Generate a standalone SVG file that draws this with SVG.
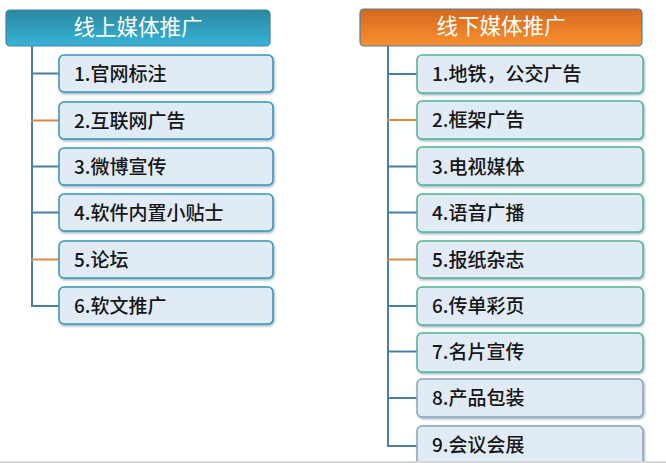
<svg xmlns="http://www.w3.org/2000/svg" width="666" height="463" viewBox="0 0 666 463">
<defs>
<linearGradient id="gBlue" x1="0" y1="0" x2="0" y2="1">
<stop offset="0" stop-color="#2a879f"/>
<stop offset="1" stop-color="#37b4d8"/>
</linearGradient>
<linearGradient id="gOrange" x1="0" y1="0" x2="0" y2="1">
<stop offset="0" stop-color="#d2691e"/>
<stop offset="1" stop-color="#fb8f2e"/>
</linearGradient>
<filter id="sh" x="-5%" y="-10%" width="110%" height="130%">
<feDropShadow dx="1" dy="1.5" stdDeviation="0.8" flood-color="#5a7f99" flood-opacity="0.6"/>
</filter>
<style>
.hdr{stroke:#4a7fa8;stroke-width:1.2}
.box{fill:#e1ebf6;stroke-width:1.5;filter:url(#sh)}
.bl{stroke:#3597b8}
.bg{stroke:#4fb593}
.bt{stroke:#8da5bd}
.ht{font-family:"Noto Sans CJK SC","Noto Sans",sans-serif;font-size:21.5px;fill:#ffffff;text-anchor:middle}
.t{font-family:"Noto Sans CJK SC","Noto Sans",sans-serif;font-size:19px;font-weight:500;fill:#161616}
.ln{stroke:#4c7ea6;stroke-width:2;fill:none}
.lo{stroke:#d98c45;stroke-width:2;fill:none}
</style>
</defs>
<rect width="666" height="463" fill="#ffffff"/>

<g id="connectors">
<line class="ln" x1="32" y1="46" x2="32" y2="307"/>
<line class="ln" x1="31" y1="73.5" x2="59" y2="73.5"/>
<line class="lo" x1="31" y1="120.5" x2="59" y2="120.5"/>
<line class="ln" x1="31" y1="166.5" x2="59" y2="166.5"/>
<line class="ln" x1="31" y1="212.5" x2="59" y2="212.5"/>
<line class="lo" x1="31" y1="259.5" x2="59" y2="259.5"/>
<line class="ln" x1="31" y1="306" x2="59" y2="306"/>

<line class="ln" x1="388" y1="46" x2="388" y2="447"/>
<line class="ln" x1="387" y1="74" x2="417" y2="74"/>
<line class="lo" x1="387" y1="120" x2="417" y2="120"/>
<line class="ln" x1="387" y1="166.5" x2="417" y2="166.5"/>
<line class="ln" x1="387" y1="212.5" x2="417" y2="212.5"/>
<line class="lo" x1="387" y1="259.5" x2="417" y2="259.5"/>
<line class="ln" x1="387" y1="306" x2="417" y2="306"/>
<line class="ln" x1="387" y1="351.5" x2="417" y2="351.5"/>
<line class="ln" x1="387" y1="398" x2="417" y2="398"/>
<line class="ln" x1="387" y1="446" x2="417" y2="446"/>
</g>

<g id="online">
<rect class="hdr" x="6" y="10" width="264" height="36" rx="4" fill="url(#gBlue)"/>
<text class="ht" x="138" y="35">线上媒体推广</text>
</g>
<g id="on1"><rect class="box bl" x="59" y="55" width="214" height="37" rx="5"/><text class="t" x="74" y="81">1.官网标注</text></g>
<g id="on2"><rect class="box bl" x="59" y="102" width="214" height="37" rx="5"/><text class="t" x="74" y="128">2.互联网广告</text></g>
<g id="on3"><rect class="box bl" x="59" y="148" width="214" height="37" rx="5"/><text class="t" x="74" y="174">3.微博宣传</text></g>
<g id="on4"><rect class="box bl" x="59" y="194" width="214" height="37" rx="5"/><text class="t" x="74" y="220">4.软件内置小贴士</text></g>
<g id="on5"><rect class="box bl" x="59" y="241" width="214" height="37" rx="5"/><text class="t" x="74" y="267">5.论坛</text></g>
<g id="on6"><rect class="box bl" x="59" y="287" width="214" height="37" rx="5"/><text class="t" x="74" y="313">6.软文推广</text></g>

<g id="offline">
<rect class="hdr" x="360" y="9" width="282" height="37" rx="4" fill="url(#gOrange)"/>
<text class="ht" x="501" y="34">线下媒体推广</text>
</g>
<g id="off1"><rect class="box bg" x="417" y="55" width="226" height="38" rx="5"/><text class="t" x="432" y="81">1.地铁，公交广告</text></g>
<g id="off2"><rect class="box bg" x="417" y="101" width="226" height="38" rx="5"/><text class="t" x="432" y="127">2.框架广告</text></g>
<g id="off3"><rect class="box bg" x="417" y="147" width="226" height="38" rx="5"/><text class="t" x="432" y="174">3.电视媒体</text></g>
<g id="off4"><rect class="box bg" x="417" y="194" width="226" height="38" rx="5"/><text class="t" x="432" y="220">4.语音广播</text></g>
<g id="off5"><rect class="box bg" x="417" y="241" width="226" height="37" rx="5"/><text class="t" x="432" y="267">5.报纸杂志</text></g>
<g id="off6"><rect class="box bg" x="417" y="287" width="226" height="38" rx="5"/><text class="t" x="432" y="313">6.传单彩页</text></g>
<g id="off7"><rect class="box bg" x="417" y="333" width="226" height="39" rx="5"/><text class="t" x="432" y="359">7.名片宣传</text></g>
<g id="off8"><rect class="box bt" x="417" y="379" width="226" height="38" rx="5"/><text class="t" x="432" y="405">8.产品包装</text></g>
<g id="off9"><rect class="box bt" x="417" y="426" width="226" height="40" rx="5"/><text class="t" x="432" y="452">9.会议会展</text></g>

<rect x="0" y="461" width="666" height="2" fill="#d6d6d6"/>
</svg>
